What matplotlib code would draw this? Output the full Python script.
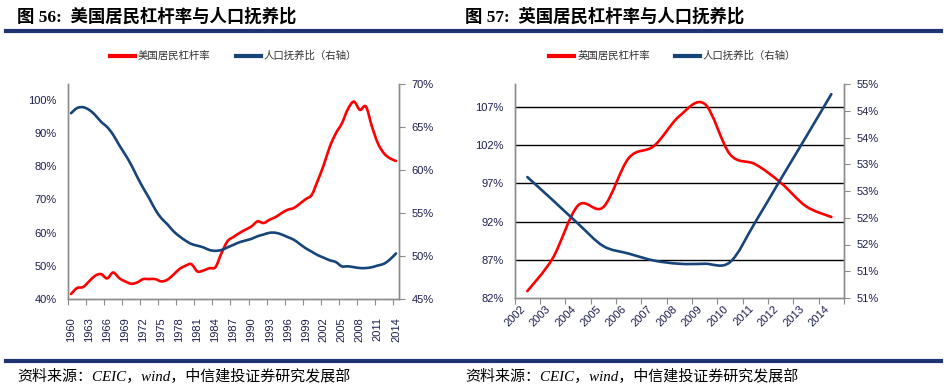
import numpy as np
import matplotlib
matplotlib.use("Agg")
import matplotlib.pyplot as plt
from matplotlib.path import Path
from matplotlib.patches import PathPatch
from matplotlib.lines import Line2D

plt.rcParams['font.family'] = ['Liberation Sans', 'Noto Sans CJK SC', 'DejaVu Sans']

# ---- data: US (图 56) ----
us_years = list(range(1960, 2015))
us_leverage = [41.5, 43.3, 43.6, 45.3, 47.0, 47.5, 46.2, 48.0, 46.3, 45.3,
               44.6, 45.0, 46.0, 46.0, 46.0, 45.3, 45.8, 47.3, 49.0, 50.0,
               50.5, 48.3, 48.6, 49.3, 49.6, 53.8, 57.4, 58.7, 59.9, 60.9,
               61.9, 63.4, 62.9, 63.9, 64.7, 65.9, 66.9, 67.4, 68.7, 70.1,
               71.4, 75.7, 80.4, 85.9, 89.9, 92.9, 97.2, 99.5, 97.0, 98.0,
               92.0, 86.9, 83.9, 82.4, 81.6]
us_dependency = [66.6, 67.2, 67.3, 67.0, 66.4, 65.6, 65.0, 64.1, 62.9, 61.8,
                 60.6, 59.2, 57.9, 56.7, 55.4, 54.4, 53.7, 52.9, 52.3, 51.8,
                 51.4, 51.2, 51.0, 50.7, 50.6, 50.7, 51.0, 51.3, 51.6, 51.8,
                 52.0, 52.3, 52.5, 52.7, 52.7, 52.5, 52.2, 51.9, 51.4, 50.9,
                 50.5, 50.1, 49.8, 49.5, 49.3, 48.8, 48.8, 48.7, 48.6, 48.6,
                 48.7, 48.9, 49.1, 49.6, 50.3]

# ---- data: UK (图 57) ----
uk_years = list(range(2002, 2015))
uk_leverage = [82.9, 87.2, 94.1, 93.9, 100.3, 101.9, 105.8, 107.4, 100.8,
               99.5, 97.1, 94.0, 92.6]
uk_dependency = [52.76, 52.33, 51.89, 51.47, 51.33, 51.20, 51.14, 51.14,
                 51.17, 51.92, 52.72, 53.51, 54.31]

RED = '#FF0000'
BLUE = '#174479'
NAVY = '#1F3470'
LBL = '#1E1E50'
GRAY = '#8C8C8C'


def smooth_line(ax, x, y, color):
    # Excel-style smoothed line drawn as cubic Bezier segments
    x = np.asarray(x, float)
    y = np.asarray(y, float)
    verts = [(x[0], y[0])]
    codes = [Path.MOVETO]
    n = len(x)
    for i in range(n - 1):
        p0 = np.array([x[max(i - 1, 0)], y[max(i - 1, 0)]])
        p1 = np.array([x[i], y[i]])
        p2 = np.array([x[i + 1], y[i + 1]])
        p3 = np.array([x[min(i + 2, n - 1)], y[min(i + 2, n - 1)]])
        c1 = p1 + (p2 - p0) / 6.0
        c2 = p2 - (p3 - p1) / 6.0
        verts += [tuple(c1), tuple(c2), tuple(p2)]
        codes += [Path.CURVE4] * 3
    ax.add_patch(PathPatch(Path(verts, codes), fill=False, edgecolor=color,
                           lw=1.9, capstyle='round', joinstyle='round'))


def style_axes(ax, ax2):
    for a in (ax, ax2):
        a.spines['top'].set_visible(False)
        for s in ('left', 'right', 'bottom'):
            a.spines[s].set_color(GRAY)
            a.spines[s].set_linewidth(1.0)
    ax.tick_params(axis='y', length=0, pad=8, labelsize=8, labelcolor=LBL)
    ax2.tick_params(axis='y', length=4, color=GRAY, pad=5, labelsize=8,
                    labelcolor=LBL)


fig = plt.figure(figsize=(9.48, 3.89), dpi=100)

# ---------- left chart ----------
ax = fig.add_axes([68 / 948, 1 - 299 / 389, 331 / 948, 215 / 389])
ax2 = ax.twinx()
smooth_line(ax, us_years, np.array(us_leverage) / 100, RED)
smooth_line(ax2, us_years, np.array(us_dependency) / 100, BLUE)
ax.set_xlim(1959.5, 2014.5)
ax.set_ylim(0.40, 1.048)
ax2.set_ylim(0.45, 0.70)
ax.set_yticks(np.arange(0.40, 1.001, 0.10))
ax.set_yticklabels([f'{v}%' for v in range(40, 101, 10)])
ax2.set_yticks(np.arange(0.45, 0.701, 0.05))
ax2.set_yticklabels([f'{v}%' for v in range(45, 71, 5)])
ax.set_xticks([1959.5 + 3 * k for k in range(19)])
ax.set_xticklabels([])
ax.set_xticks(us_years[::3], minor=True)
ax.set_xticklabels([str(y) for y in us_years[::3]], minor=True, rotation=90,
                   fontsize=8, color=LBL)
ax.tick_params(axis='x', which='major', length=4, color=GRAY)
ax.tick_params(axis='x', which='minor', length=0, pad=13)
style_axes(ax, ax2)

h = [Line2D([], [], color=RED, lw=3), Line2D([], [], color=BLUE, lw=3)]
ax.legend(h, ['美国居民杠杆率', '人口抚养比（右轴）'], loc='center',
          bbox_to_anchor=(0.50, 1.13), ncol=2, frameon=False,
          prop={'family': ['Noto Sans CJK SC'], 'size': 7.5},
          labelcolor='#333333', handlelength=2.4, handletextpad=0.3,
          columnspacing=2.4)

# ---------- right chart ----------
bx = fig.add_axes([514.7 / 948, 1 - 298 / 389, 329.3 / 948, 214 / 389])
bx2 = bx.twinx()
bx.set_xlim(2001.5, 2014.5)
bx.set_ylim(0.82, 1.10)
bx2.set_ylim(0.505, 0.545)
for g in np.arange(0.87, 1.071, 0.05):
    bx.axhline(g, color='black', lw=1.0, zorder=0)
smooth_line(bx, uk_years, np.array(uk_leverage) / 100, RED)
smooth_line(bx2, uk_years, np.array(uk_dependency) / 100, BLUE)
bx.set_yticks(np.arange(0.82, 1.071, 0.05))
bx.set_yticklabels([f'{v}%' for v in range(82, 108, 5)])
r_ticks = np.arange(0.505, 0.5451, 0.005)
bx2.set_yticks(r_ticks)
bx2.set_yticklabels(['51%', '51%', '52%', '52%', '53%', '53%', '54%',
                     '54%', '55%'])
bx.set_xticks([2001.5 + k for k in range(14)])
bx.set_xticklabels([])
bx.set_xticks(uk_years, minor=True)
bx.set_xticklabels([str(y) for y in uk_years], minor=True, rotation=45,
                   ha='right', fontsize=8, color=LBL)
bx.tick_params(axis='x', which='major', length=4, color=GRAY)
bx.tick_params(axis='x', which='minor', length=0, pad=4)
style_axes(bx, bx2)

bx.legend(h, ['英国居民杠杆率', '人口抚养比（右轴）'], loc='center',
          bbox_to_anchor=(0.48, 1.13), ncol=2, frameon=False,
          prop={'family': ['Noto Sans CJK SC'], 'size': 7.5},
          labelcolor='#333333', handlelength=2.4, handletextpad=0.3,
          columnspacing=2.4)

# ---------- titles, rules, sources ----------
tfont = ['Liberation Serif', 'Noto Sans CJK SC']
fig.text(17 / 948, 1 - 17 / 389, '图 56:  美国居民杠杆率与人口抚养比',
         family=tfont, fontsize=12.5, weight='bold', va='center', color='black')
fig.text(465 / 948, 1 - 17 / 389, '图 57:  英国居民杠杆率与人口抚养比',
         family=tfont, fontsize=12.5, weight='bold', va='center', color='black')
for yy in (31, 361):
    fig.add_artist(Line2D([6 / 948, 941 / 948], [1 - yy / 389, 1 - yy / 389],
                          color=NAVY, lw=3, transform=fig.transFigure))
src = '资料来源：CEIC，wind，中信建投证券研究发展部'
fig.text(17 / 948, 1 - 377 / 389, src, family=tfont, style='italic',
         fontsize=10.8, va='center', color='black')
fig.text(465 / 948, 1 - 377 / 389, src, family=tfont, style='italic',
         fontsize=10.8, va='center', color='black')

fig.savefig('out.png', dpi=100)
